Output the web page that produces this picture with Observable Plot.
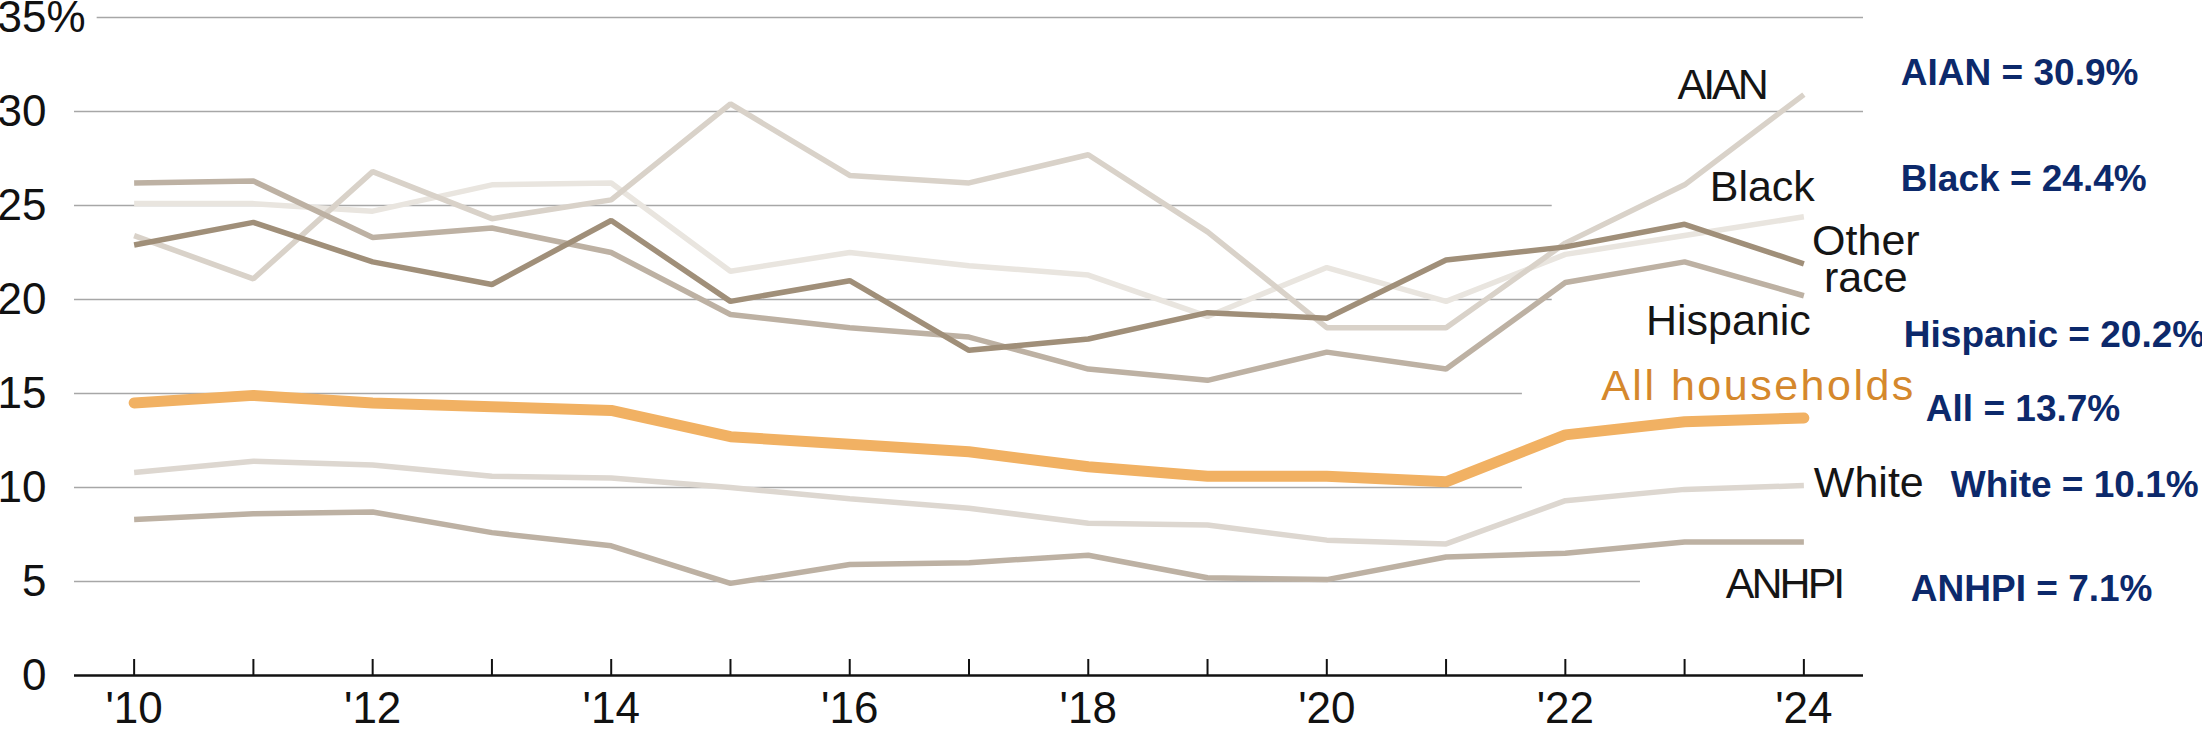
<!DOCTYPE html>
<html><head><meta charset="utf-8">
<script src="https://cdn.jsdelivr.net/npm/d3@7"></script>
<script src="https://cdn.jsdelivr.net/npm/@observablehq/plot@0.6"></script>
<style>html,body{margin:0;padding:0;background:#fff;}#chart{width:2202px;height:743px;}</style>
</head><body><div id="chart"></div>
<script>
// ---- data ----
const years = [2010, 2011, 2012, 2013, 2014, 2015, 2016, 2017, 2018, 2019, 2020, 2021, 2022, 2023, 2024];
const aian          = [23.4, 21.1, 26.8, 24.3, 25.3, 30.4, 26.6, 26.2, 27.7, 23.6, 18.5, 18.5, 23.0, 26.1, 30.9];
const black         = [25.1, 25.1, 24.7, 26.1, 26.2, 21.5, 22.5, 21.8, 21.3, 19.1, 21.7, 19.9, 22.4, 23.4, 24.4];
const otherRace     = [22.9, 24.1, 22.0, 20.8, 24.2, 19.9, 21.0, 17.3, 17.9, 19.3, 19.0, 22.1, 22.8, 24.0, 21.9];
const hispanic      = [26.2, 26.3, 23.3, 23.8, 22.5, 19.2, 18.5, 18.0, 16.3, 15.7, 17.2, 16.3, 20.9, 22.0, 20.2];
const allHouseholds = [14.5, 14.9, 14.5, 14.3, 14.1, 12.7, 12.3, 11.9, 11.1, 10.6, 10.6, 10.3, 12.8, 13.5, 13.7];
const white         = [10.8, 11.4, 11.2, 10.6, 10.5, 10.0, 9.4, 8.9, 8.1, 8.0, 7.2, 7.0, 9.3, 9.9, 10.1];
const anhpi         = [8.3, 8.6, 8.7, 7.6, 6.9, 4.9, 5.9, 6.0, 6.4, 5.2, 5.1, 6.3, 6.5, 7.1, 7.1];

const seriesNames  = ["Black", "White", "AIAN", "Hispanic", "ANHPI", "Other race", "All households"];
const seriesValues = [black, white, aian, hispanic, anhpi, otherRace, allHouseholds];
const seriesLabels = ["Black", "White", "AIAN", "Hispanic", "ANHPI", "Other\nrace", "All households"];
const annotationNames = ["Black", "White", "AIAN", "Hispanic", "ANHPI", null, "All"];
const yTicks = [0, 5, 10, 15, 20, 25, 30, 35];
const xTickYears = [2010, 2012, 2014, 2016, 2018, 2020, 2022, 2024];

// ---- derived tables ----
const rows = seriesNames.flatMap((name, i) => years.map((year, j) => ({series: name, year, value: seriesValues[i][j]})));
const lastRows = seriesNames.map((name, i) => ({
  series: name, label: seriesLabels[i], short: annotationNames[i],
  year: years[years.length - 1], value: seriesValues[i][years.length - 1]
}));

// ---- styles / layout ----
const colors = {
  "AIAN": "#d9d2c9", "Black": "#e9e5df", "Other race": "#a08f79", "Hispanic": "#bdb1a3",
  "White": "#ddd7d0", "ANHPI": "#bdb1a3", "All households": "#f1b163"
};
const xDomain = [2009.5, 2024.5];
const gridFrom = {35: 2009.69};
const gridTo = {25: 2021.89, 20: 2021.89, 15: 2021.64, 10: 2021.64, 5: 2022.63};
const labelLayout = {
  "AIAN": {textAnchor: "end", dx: -38, dy: -7},
  "Black": {textAnchor: "end", dx: 11, dy: -28},
  "Other race": {textAnchor: "middle", dx: 62, dy: -2},
  "Hispanic": {textAnchor: "end", dx: 7, dy: 27},
  "All households": {textAnchor: "end", dx: 112, dy: -30},
  "White": {textAnchor: "start", dx: 10, dy: 0},
  "ANHPI": {textAnchor: "start", dx: -78, dy: 44}
};
const labelSpacing = {"AIAN": "-3px", "ANHPI": "-3px", "All households": "2.5px"};
const annoLayout = {
  "AIAN": {dx: 97, dy: -21},
  "Black": {dx: 97, dy: -38},
  "Hispanic": {dx: 100, dy: 39},
  "All households": {dx: 122, dy: -9},
  "White": {dx: 147, dy: 0},
  "ANHPI": {dx: 107, dy: 47}
};
const axisFont = "'Liberation Sans Narrow', 'Arial Narrow', sans-serif";

const marks = [
  Plot.ruleY(yTicks.filter(d => d > 0), {
    y: d => d, x1: d => gridFrom[d] ?? xDomain[0], x2: d => gridTo[d] ?? xDomain[1],
    stroke: "#a7a7a7", strokeWidth: 1.6
  }),
  Plot.line(rows.filter(d => d.series !== "All households"), {
    x: "year", y: "value", z: "series", stroke: d => colors[d.series], strokeWidth: 5.5,
    strokeLinejoin: "miter", strokeLinecap: "butt"
  }),
  Plot.line(rows.filter(d => d.series === "All households"), {
    x: "year", y: "value", stroke: colors["All households"], strokeWidth: 11,
    strokeLinejoin: "round", strokeLinecap: "round"
  }),
  Plot.ruleY([0], {stroke: "#111", strokeWidth: 2.5}),
  Plot.ruleX(years, {x: d => d, y1: 0, y2: 0, insetTop: -16, stroke: "#111", strokeWidth: 2}),
  Plot.axisY(yTicks, {label: null, tickSize: 0, tickPadding: 28, tickFormat: d => String(d), fontSize: 44, fontFamily: axisFont, fill: "#111"}),
  Plot.text([35], {y: d => d, frameAnchor: "left", text: () => "%", dx: -28, textAnchor: "start", fontSize: 44, fontFamily: axisFont, fill: "#111"}),
  Plot.axisX(xTickYears, {label: null, tickSize: 0, tickPadding: 16, tickFormat: d => "'" + String(d).slice(2), fontSize: 44, fontFamily: axisFont, fill: "#111"}),
  ...lastRows.map(r => Plot.text([r], {
    x: "year", y: "value", text: "label",
    ...labelLayout[r.series], lineHeight: 0.86,
    fontSize: 43, fontFamily: axisFont,
    fill: r.series === "All households" ? "#d5882c" : "#151515"
  })),
  ...lastRows.filter(r => r.short).map(r => Plot.text([r], {
    x: "year", y: "value", text: d => `${d.short} = ${d.value.toFixed(1)}%`,
    textAnchor: "start", ...annoLayout[r.series],
    fontSize: 37, fontWeight: "bold", fontFamily: "'Liberation Sans', Arial, sans-serif", fill: "#0c296b"
  }))
];

const chart = Plot.plot({
  width: 2202, height: 743,
  marginLeft: 74, marginRight: 339, marginTop: 17, marginBottom: 68,
  x: {domain: xDomain, axis: null},
  y: {domain: [0, 35], axis: null},
  style: {background: "#fff", overflow: "hidden"},
  marks
});
// letter-spacing tweaks for series labels (style only)
d3.select(chart).selectAll("text").each(function() {
  const t = this.textContent;
  if (labelSpacing[t]) this.setAttribute("letter-spacing", labelSpacing[t]);
});
document.getElementById("chart").appendChild(chart);
</script>
</body></html>
